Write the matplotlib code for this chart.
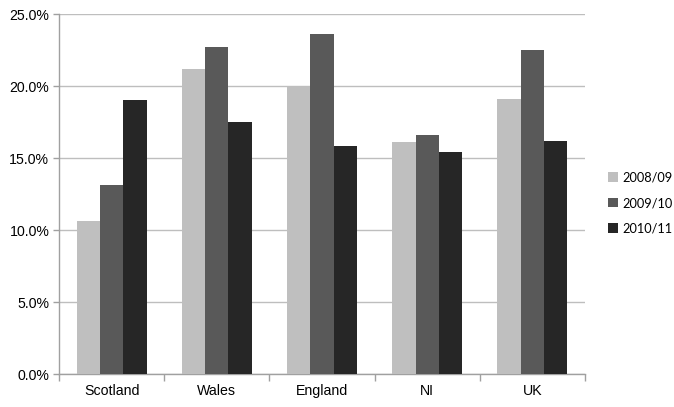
import matplotlib
matplotlib.use("Agg")
import matplotlib.pyplot as plt
import numpy as np
from matplotlib.ticker import FuncFormatter, FixedLocator
from matplotlib.patches import Patch

categories = ["Scotland", "Wales", "England", "NI", "UK"]
series_names = ["2008/09", "2009/10", "2010/11"]
v2008 = [10.6, 21.2, 19.9, 16.1, 19.1]
v2009 = [13.1, 22.7, 23.6, 16.6, 22.5]
v2010 = [19.0, 17.5, 15.8, 15.4, 16.2]
colors = ["#BFBFBF", "#595959", "#262626"]

fig = plt.figure(figsize=(6.74, 4.07), dpi=100)
ax = fig.add_axes([59/674, 1 - 374/407, (585 - 59)/674, (374 - 14)/407])

x = np.arange(len(categories))
w = 0.222
for i, (vals, c, n) in enumerate(zip([v2008, v2009, v2010], colors, series_names)):
    ax.bar(x + (i - 1) * w, vals, width=w, color=c, label=n, zorder=3)

ax.set_xlim(-0.5, len(categories) - 0.5)
ax.set_ylim(0, 25)
ax.set_yticks(np.arange(0, 25.1, 5))
ax.yaxis.set_major_formatter(FuncFormatter(lambda v, p: f"{v:.1f}%"))
ax.yaxis.grid(True, color="#BEBEBE", linewidth=1.0, zorder=0)
ax.set_axisbelow(True)

ax.set_xticks(x)
ax.set_xticklabels(categories)
ax.xaxis.set_minor_locator(FixedLocator(np.arange(-0.5, len(categories), 1.0)))
ax.tick_params(axis="x", which="major", length=0, pad=7)
ax.tick_params(axis="x", which="minor", length=5, color="#A0A0A0", width=1)
ax.tick_params(axis="y", length=4, color="#A0A0A0", width=1, pad=3)

for lab in ax.get_xticklabels() + ax.get_yticklabels():
    lab.set_fontfamily("Liberation Sans")
    lab.set_fontsize(10.2)
    lab.set_color("#000000")

for s in ["top", "right"]:
    ax.spines[s].set_visible(False)
for s in ["left", "bottom"]:
    ax.spines[s].set_color("#A0A0A0")
    ax.spines[s].set_linewidth(1.0)

handles = [Patch(facecolor=c, edgecolor="none") for c in colors]
fig.legend(handles, series_names, loc="center left",
           bbox_to_anchor=(603/674, 1 - 203/407), frameon=False,
           prop={"family": "Lato", "size": 9.2}, handlelength=0.75, handleheight=0.75,
           handletextpad=0.35, labelspacing=1.05, borderaxespad=0)

fig.savefig("out.png", dpi=100)
